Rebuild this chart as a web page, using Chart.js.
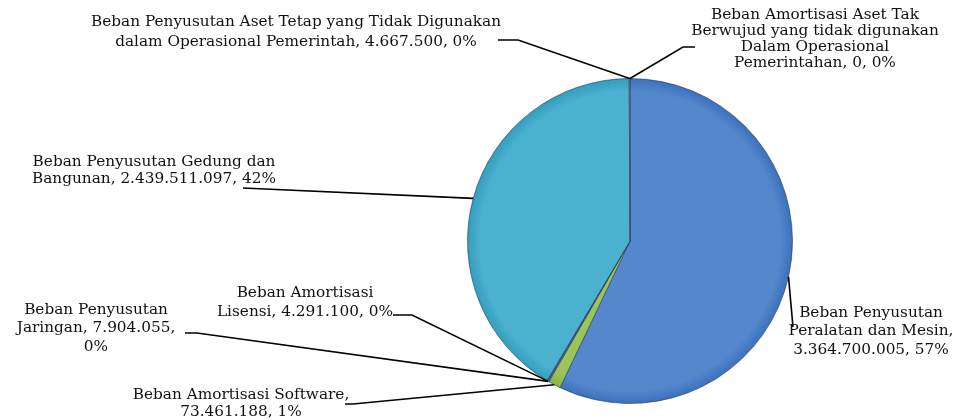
<!DOCTYPE html>
<html>
<head>
<meta charset="utf-8">
<script src="https://cdn.jsdelivr.net/npm/chart.js@4/dist/chart.umd.min.js"></script>
<style>
  html, body { margin: 0; padding: 0; background: #fff; }
  #wrap { width: 967px; height: 420px; position: relative; }
</style>
</head>
<body>
<div id="wrap"><canvas id="pieChart"></canvas></div>
<script>
// Data (clockwise from top)
const categories = [
    'Beban Penyusutan Peralatan dan Mesin',
    'Beban Amortisasi Software',
    'Beban Penyusutan Jaringan',
    'Beban Amortisasi Lisensi',
    'Beban Penyusutan Gedung dan Bangunan',
    'Beban Penyusutan Aset Tetap yang Tidak Digunakan dalam Operasional Pemerintah',
    'Beban Amortisasi Aset Tak Berwujud yang tidak digunakan Dalam Operasional Pemerintahan'
];
const values = [3364700005, 73461188, 7904055, 4291100, 2439511097, 4667500, 0];
const valueLabels = ['3.364.700.005', '73.461.188', '7.904.055', '4.291.100', '2.439.511.097', '4.667.500', '0'];
const percentLabels = ['57%', '1%', '0%', '0%', '42%', '0%', '0%'];

// Label text, wrapped the way the picture shows it
const labelLines = [
    ['Beban Penyusutan', 'Peralatan dan Mesin,', '3.364.700.005, 57%'],
    ['Beban Amortisasi Software,', '73.461.188, 1%'],
    ['Beban Penyusutan', 'Jaringan, 7.904.055,', '0%'],
    ['Beban Amortisasi', 'Lisensi, 4.291.100, 0%'],
    ['Beban Penyusutan Gedung dan', 'Bangunan, 2.439.511.097, 42%'],
    ['Beban Penyusutan Aset Tetap yang Tidak Digunakan', 'dalam Operasional Pemerintah, 4.667.500, 0%'],
    ['Beban Amortisasi Aset Tak', 'Berwujud yang tidak digunakan', 'Dalam Operasional', 'Pemerintahan, 0, 0%']
];

const colors = ['#5587cc', '#9dc35b', '#4f81bd', '#8064a2', '#4bb1cf', '#f79646', '#c0504d'];

// label placement: text centre x, line centres y, leader line end points (label side)
const labelLayout = [
    { x: 871, ys: [313, 331.5, 350], leader: [[793, 327]] },
    { x: 241, ys: [395, 412], leader: [[353, 404], [345, 404]] },
    { x: 96,  ys: [310, 328.5, 347], leader: [[197, 333], [185, 333]] },
    { x: 305, ys: [293, 312], leader: [[412, 315], [393, 315]] },
    { x: 154, ys: [162, 179.5], leader: [[243, 188]] },
    { x: 296, ys: [22, 42], leader: [[518, 40], [498, 40]] },
    { x: 815, ys: [15, 31.5, 47.5, 63.5], leader: [[683, 47], [695, 47]] }
];

function shade(ctx) {
    const chart = ctx.chart;
    const base = colors[ctx.dataIndex];
    const area = chart.chartArea;
    if (!area) return base;
    const cx = (area.left + area.right) / 2;
    const cy = (area.top + area.bottom) / 2;
    const r = Math.min(area.width, area.height) / 2;
    const g = chart.ctx.createRadialGradient(cx, cy, 0, cx, cy, r);
    g.addColorStop(0, base);
    g.addColorStop(0.92, base);
    g.addColorStop(1, Chart.helpers.color(base).darken(0.15).rgbString());
    return g;
}

const labelPlugin = {
    id: 'leaderLabels',
    afterDraw(chart) {
        const ctx = chart.ctx;
        const meta = chart.getDatasetMeta(0);
        ctx.save();
        meta.data.forEach((arc, i) => {
            const p = arc.getProps(['x', 'y', 'startAngle', 'endAngle', 'outerRadius'], true);
            const mid = (p.startAngle + p.endAngle) / 2;
            const sx = p.x + Math.cos(mid) * p.outerRadius;
            const sy = p.y + Math.sin(mid) * p.outerRadius;
            const lay = labelLayout[i];

            ctx.beginPath();
            ctx.strokeStyle = '#000';
            ctx.lineWidth = 1.6;
            ctx.moveTo(sx, sy);
            lay.leader.forEach(pt => ctx.lineTo(pt[0], pt[1]));
            ctx.stroke();

            ctx.fillStyle = '#111';
            ctx.font = '15.3px "DejaVu Serif"';
            ctx.textAlign = 'center';
            ctx.textBaseline = 'middle';
            labelLines[i].forEach((line, j) => {
                ctx.fillText(line, lay.x, lay.ys[j]);
            });
        });
        ctx.restore();
    }
};

new Chart(document.getElementById('pieChart'), {
    type: 'pie',
    data: {
        labels: categories,
        datasets: [{
            data: values,
            backgroundColor: shade,
            borderColor: 'rgba(40, 60, 90, 0.6)',
            borderWidth: 1
        }]
    },
    options: {
        responsive: true,
        maintainAspectRatio: false,
        animation: false,
        layout: {
            padding: { left: 467, right: 174, top: 78, bottom: 16 }
        },
        plugins: {
            legend: { display: false },
            tooltip: { enabled: false }
        }
    },
    plugins: [labelPlugin]
});
</script>
</body>
</html>
